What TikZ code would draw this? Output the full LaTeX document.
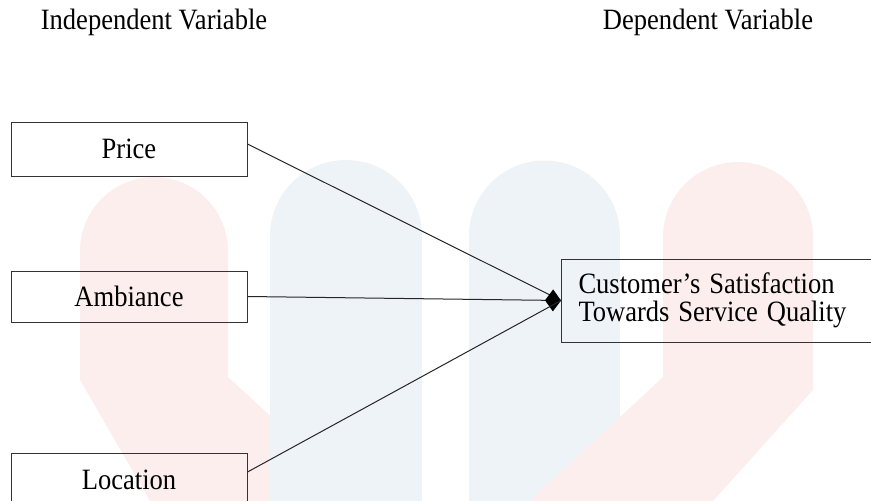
\documentclass[tikz,border=0pt]{standalone}
\usepackage{graphicx}
\usepackage{fontspec}
\setmainfont{Liberation Serif}
\usetikzlibrary{arrows.meta}
\definecolor{wmred}{RGB}{253,238,238}
\definecolor{wmblue}{RGB}{238,243,247}
\newcommand{\narrowtext}[1]{\scalebox{0.9}[1]{#1}}

\begin{document}
\begin{tikzpicture}[x=1pt,y=-1pt,
		varbox/.style={draw=black!80, line width=1pt, minimum width=236pt, inner sep=0pt, font=\fontsize{29.5}{28}\selectfont},
		headtext/.style={font=\fontsize{29.5}{28}\selectfont},
		link/.style={draw=black!85, line width=1pt}]
			\useasboundingbox (0,0) rectangle (871,501);
			% faint logo behind the diagram
			\fill[wmred](80,251) -- (228,251) -- (228,377) -- (363,501) -- (150,501) -- (80,380) -- cycle;
			\fill[wmred](154,251) circle(74);
			\fill[wmblue](270,236) rectangle (422,501);
			\fill[wmblue](346,236) circle(76);
			\fill[wmblue](469,236) rectangle (620,501);
			\fill[wmblue](544.5,236) circle(75.5);
			\fill[wmred](663,237) -- (813,237) -- (813,390) -- (713,501) -- (530,501) -- (663,377) -- cycle;
			\fill[wmred](738,237) circle(75);
			% headings
			\node[headtext] (indep) at (154,22) {\narrowtext{Independent Variable}};
			\node[headtext] (dep) at (708,22) {\narrowtext{Dependent Variable}};
			% variables
			\node[varbox, minimum height=54pt] (price) at (129,149) {\narrowtext{Price}};
			\node[varbox, minimum height=51pt] (ambiance) at (129,296.5) {\narrowtext{Ambiance}};
			\node[varbox, minimum height=54pt] (location) at (129,480) {\narrowtext{Location}};
			\node[varbox, minimum width=0pt, minimum height=83pt, anchor=west, align=left, inner xsep=17pt, text width=330pt] (satisfaction) at (561,300.5) {\narrowtext{Customer's Satisfaction}\\\narrowtext{Towards Service Quality}};
			% links
			\draw[link]([yshift=5pt]price.east) -- (satisfaction.west);
			\draw[link, -{Diamond[length=16pt,width=22pt,black]}](ambiance.east) -- (satisfaction.west);
			\draw[link]([yshift=8pt]location.east) -- (satisfaction.west);
		\end{tikzpicture}
\end{document}
